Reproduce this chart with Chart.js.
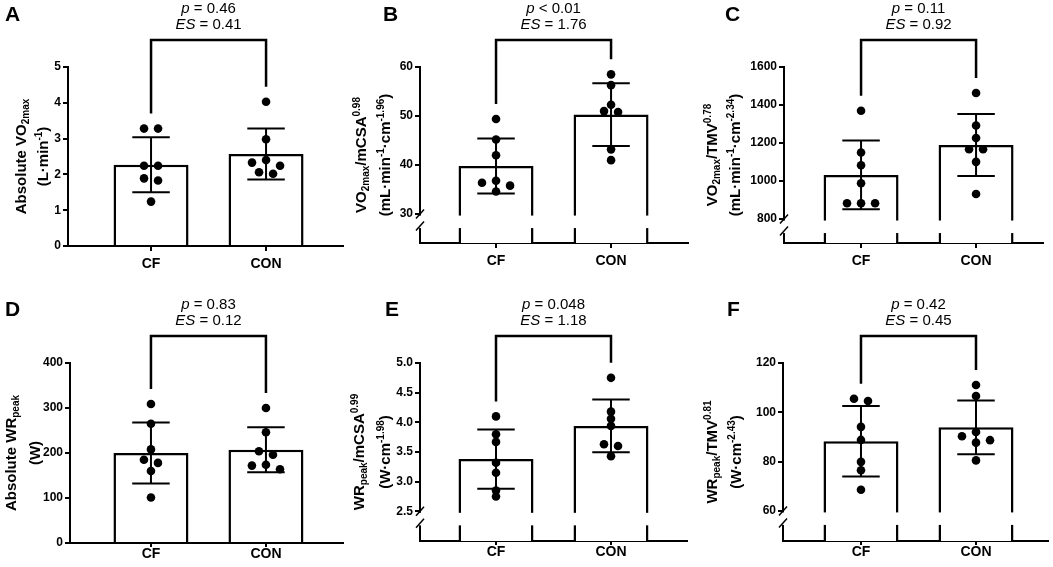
<!DOCTYPE html>
<html>
<head>
<meta charset="utf-8">
<script src="https://cdn.jsdelivr.net/npm/chart.js@4.4.1/dist/chart.umd.min.js"></script>
<style>
  body { margin: 0; background: #fff; }
  #fig { position: relative; width: 1053px; height: 567px; }
  #fig canvas { position: absolute; }
</style>
</head>
<body>
<div id="fig"></div>
<script>
const groups = ['CF', 'CON'];

// A - absolute VO2max (L/min)
const vo2AbsCF = [3.28, 3.28, 2.24, 2.24, 1.89, 1.83, 1.24];
const vo2AbsCON = [4.03, 2.98, 2.40, 2.33, 2.24, 2.06, 2.02];
const vo2AbsMean = [2.27, 2.57];
const vo2AbsSD = [0.77, 0.71];
const vo2AbsTicks = [0, 1, 2, 3, 4, 5];

// B - VO2max / mCSA^0.98
const vo2CsaCF = [49.4, 45.2, 42.0, 36.8, 36.4, 35.8, 34.6];
const vo2CsaCON = [58.5, 56.3, 52.3, 51.0, 50.8, 43.2, 41.0];
const vo2CsaMean = [39.8, 50.3];
const vo2CsaSD = [5.6, 6.4];
const vo2CsaTicks = [30, 40, 50, 60];

// C - VO2max / TMV^0.78
const vo2TmvCF = [1370, 1150, 1083, 988, 883, 883, 883];
const vo2TmvCON = [1463, 1292, 1226, 1167, 1167, 1101, 932];
const vo2TmvMean = [1032, 1190];
const vo2TmvSD = [181, 163];
const vo2TmvTicks = [800, 1000, 1200, 1400, 1600];

// D - absolute WRpeak (W)
const wrAbsCF = [309, 265, 208, 185, 178, 160, 101];
const wrAbsCON = [300, 246, 204, 196, 174, 172, 164];
const wrAbsMean = [200, 207];
const wrAbsSD = [68, 50];
const wrAbsTicks = [0, 100, 200, 300, 400];

// E - WRpeak / mCSA^0.99
const wrCsaCF = [4.10, 3.80, 3.67, 3.32, 3.15, 2.85, 2.75];
const wrCsaCON = [4.75, 4.18, 4.06, 3.94, 3.63, 3.60, 3.43];
const wrCsaMean = [3.38, 3.94];
const wrCsaSD = [0.50, 0.445];
const wrCsaTicks = [2.5, 3.0, 3.5, 4.0, 4.5, 5.0];

// F - WRpeak / TMV^0.81
const wrTmvCF = [105.5, 104.6, 94.1, 88.8, 79.9, 76.5, 68.6];
const wrTmvCON = [111.1, 106.6, 92.0, 90.3, 88.7, 87.7, 80.5];
const wrTmvMean = [88.3, 93.9];
const wrTmvSD = [14.3, 10.9];
const wrTmvTicks = [60, 80, 100, 120];

const pTexts = ['= 0.46', '< 0.01', '= 0.11', '= 0.83', '= 0.048', '= 0.42'];
const esTexts = ['0.41', '1.76', '0.92', '0.12', '1.18', '0.45'];

const FONT = '"Liberation Sans", Arial, sans-serif';

const panels = [
  { letter: 'A', box: [0, 0, 350, 283], yw: 68, top: 67, right: 7, xh: 37, tl: 5, labPad: 5,
    xMin: 0.278, xMax: 2.669, yMin: 0, yMax: 5, brk: null, dec: 0,
    cf: vo2AbsCF, con: vo2AbsCON, mean: vo2AbsMean, sd: vo2AbsSD, ticks: vo2AbsTicks,
    title: [[['Absolute VO', 0], ['2max', -1]], [['(L·min', 0], ['-1', 1], [')', 0]]],
    titleX: [21, 43], letterPos: [5, 5] },
  { letter: 'B', box: [350, 0, 350, 283], yw: 70, top: 67, right: 12, xh: 40, tl: 5, labPad: 5,
    xMin: 0.339, xMax: 2.669, yMin: 24.1, yMax: 60, brk: 30, dec: 0,
    cf: vo2CsaCF, con: vo2CsaCON, mean: vo2CsaMean, sd: vo2CsaSD, ticks: vo2CsaTicks,
    title: [[['VO', 0], ['2max', -1], ['/mCSA', 0], ['0.98', 1]],
            [['(mL·min', 0], ['-1', 1], ['·cm', 0], ['-1.96', 1], [')', 0]]],
    titleX: [11, 35], letterPos: [33, 5] },
  { letter: 'C', box: [700, 0, 353, 283], yw: 84, top: 67, right: 10, xh: 40, tl: 5, labPad: 5,
    xMin: 0.330, xMax: 2.582, yMin: 674, yMax: 1600, brk: 800, dec: 0,
    cf: vo2TmvCF, con: vo2TmvCON, mean: vo2TmvMean, sd: vo2TmvSD, ticks: vo2TmvTicks,
    title: [[['VO', 0], ['2max', -1], ['/TMV', 0], ['0.78', 1]],
            [['(mL·min', 0], ['-1', 1], ['·cm', 0], ['-2.34', 1], [')', 0]]],
    titleX: [12, 35], letterPos: [25, 5] },
  { letter: 'D', box: [0, 283, 350, 284], yw: 70, top: 80, right: 7, xh: 24, tl: 4, labPad: -1,
    xMin: 0.296, xMax: 2.670, yMin: 0, yMax: 400, brk: null, dec: 0,
    cf: wrAbsCF, con: wrAbsCON, mean: wrAbsMean, sd: wrAbsSD, ticks: wrAbsTicks,
    title: [[['Absolute WR', 0], ['peak', -1]], [['(W)', 0]]],
    titleX: [11, 35], letterPos: [5, 17] },
  { letter: 'E', box: [350, 283, 350, 284], yw: 70, top: 80, right: 13, xh: 26, tl: 4, labPad: -1,
    xMin: 0.339, xMax: 2.661, yMin: 2.0, yMax: 5.0, brk: 2.5, dec: 1,
    cf: wrCsaCF, con: wrCsaCON, mean: wrCsaMean, sd: wrCsaSD, ticks: wrCsaTicks,
    title: [[['WR', 0], ['peak', -1], ['/mCSA', 0], ['0.99', 1]],
            [['(W·cm', 0], ['-1.98', 1], [')', 0]]],
    titleX: [9, 35], letterPos: [35, 17] },
  { letter: 'F', box: [700, 283, 353, 284], yw: 83, top: 80, right: 5, xh: 26, tl: 4, labPad: -1,
    xMin: 0.322, xMax: 2.626, yMin: 47.8, yMax: 120, brk: 60, dec: 0,
    cf: wrTmvCF, con: wrTmvCON, mean: wrTmvMean, sd: wrTmvSD, ticks: wrTmvTicks,
    title: [[['WR', 0], ['peak', -1], ['/TMV', 0], ['0.81', 1]],
            [['(W·cm', 0], ['-2.43', 1], [')', 0]]],
    titleX: [12, 36], letterPos: [27, 17] }
];

// spread points that sit at nearly the same height into rows (max 3 per row)
function swarm(vals, thr, step) {
  const order = vals.map((v, i) => i).sort((a, b) => vals[b] - vals[a]);
  const off = vals.map(() => 0);
  const slots = { 1: [0], 2: [-0.5, 0.5], 3: [0, -1, 1] };
  let row = [];
  const flush = () => {
    row.forEach((i, k) => { off[i] = slots[row.length][k] * step; });
    row = [];
  };
  order.forEach(i => {
    if (row.length && (vals[row[row.length - 1]] - vals[i] >= thr || row.length === 3)) flush();
    row.push(i);
  });
  flush();
  return off;
}

function drawRich(ctx, segs, cx, cy) {
  ctx.save();
  ctx.translate(cx, cy);
  ctx.rotate(-Math.PI / 2);
  const fontFor = s => s[1] === 0 ? 'bold 15px ' + FONT : 'bold 10px ' + FONT;
  let w = 0;
  segs.forEach(s => { ctx.font = fontFor(s); w += ctx.measureText(s[0]).width; });
  let x = -w / 2;
  ctx.fillStyle = '#000';
  ctx.textBaseline = 'alphabetic';
  segs.forEach(s => {
    ctx.font = fontFor(s);
    const dy = s[1] === 1 ? -6 : (s[1] === -1 ? 3 : 0);
    ctx.fillText(s[0], x, 5 + dy);
    x += ctx.measureText(s[0]).width;
  });
  ctx.restore();
}

function drawStat(ctx, label, rest, cx, cy) {
  ctx.font = 'italic 15px ' + FONT;
  const w1 = ctx.measureText(label).width;
  ctx.font = '15px ' + FONT;
  const w2 = ctx.measureText(' ' + rest).width;
  const x0 = cx - (w1 + w2) / 2;
  ctx.textBaseline = 'middle';
  ctx.textAlign = 'left';
  ctx.font = 'italic 15px ' + FONT;
  ctx.fillText(label, x0, cy);
  ctx.font = '15px ' + FONT;
  ctx.fillText(' ' + rest, x0 + w1, cy);
}

function extras(pn, k) {
  return {
    id: 'extras',
    afterDatasetDraw(chart, args) {
      if (args.meta.type !== 'bar') return;
      const { ctx, chartArea: a, scales: { y } } = chart;
      ctx.save();
      ctx.strokeStyle = '#000';
      ctx.lineWidth = 2;
      args.meta.data.forEach((bar, i) => {
        const top = y.getPixelForValue(pn.mean[i] + pn.sd[i]);
        const bot = y.getPixelForValue(pn.mean[i] - pn.sd[i]);
        const hw = bar.width / 4;
        ctx.beginPath();
        ctx.moveTo(bar.x, top); ctx.lineTo(bar.x, bot);
        ctx.moveTo(bar.x - hw, top); ctx.lineTo(bar.x + hw, top);
        ctx.moveTo(bar.x - hw, bot); ctx.lineTo(bar.x + hw, bot);
        ctx.stroke();
      });
      if (pn.brk !== null) {
        const yb = y.getPixelForValue(pn.brk);
        ctx.fillStyle = '#fff';
        ctx.fillRect(a.left - 2, yb + 1.5, a.right - a.left + 4, 12.5);
        ctx.lineWidth = 1.5;
        [yb, yb + 12].forEach(v => {
          ctx.beginPath();
          ctx.moveTo(a.left - 4, v + 4.5);
          ctx.lineTo(a.left + 4, v - 4.5);
          ctx.stroke();
        });
      }
      ctx.restore();
    },
    afterDraw(chart) {
      const { ctx, chartArea: a, scales: { x, y } } = chart;
      ctx.save();
      // significance bracket
      const x1 = x.getPixelForValue(1), x2 = x.getPixelForValue(2);
      const topY = a.top - 27;
      const legs = [pn.cf, pn.con].map((vals, g) =>
        y.getPixelForValue(Math.max(...vals, pn.mean[g] + pn.sd[g])) - 15);
      ctx.strokeStyle = '#000';
      ctx.lineWidth = 2.5;
      ctx.lineJoin = 'miter';
      ctx.beginPath();
      ctx.moveTo(x1, legs[0]);
      ctx.lineTo(x1, topY);
      ctx.lineTo(x2, topY);
      ctx.lineTo(x2, legs[1]);
      ctx.stroke();
      ctx.fillStyle = '#000';
      const cx = (x1 + x2) / 2;
      drawStat(ctx, 'p', pTexts[k], cx, topY - 31);
      drawStat(ctx, 'ES', '= ' + esTexts[k], cx, topY - 15);
      // panel letter
      ctx.font = 'bold 21px ' + FONT;
      ctx.textBaseline = 'top';
      ctx.fillText(pn.letter, pn.letterPos[0], pn.letterPos[1]);
      // y axis title
      const cy = (a.top + a.bottom) / 2;
      pn.title.forEach((segs, i) => drawRich(ctx, segs, pn.titleX[i], cy));
      ctx.restore();
    }
  };
}

const fig = document.getElementById('fig');
const step = 0.122;

panels.forEach((pn, k) => {
  const canvas = document.createElement('canvas');
  canvas.width = pn.box[2];
  canvas.height = pn.box[3];
  canvas.style.left = pn.box[0] + 'px';
  canvas.style.top = pn.box[1] + 'px';
  fig.appendChild(canvas);

  const thr = 0.03 * (pn.yMax - pn.yMin);
  const offCF = swarm(pn.cf, thr, step);
  const offCON = swarm(pn.con, thr, step);
  const points = pn.cf.map((v, i) => ({ x: 1 + offCF[i], y: v }))
    .concat(pn.con.map((v, i) => ({ x: 2 + offCON[i], y: v })));

  new Chart(canvas, {
    type: 'bar',
    data: {
      datasets: [
        {
          type: 'bar',
          data: pn.mean.map((m, i) => ({ x: i + 1, y: m })),
          backgroundColor: '#fff',
          borderColor: '#000',
          borderWidth: 2.5,
          barPercentage: 0.652,
          categoryPercentage: 1,
          order: 2
        },
        {
          type: 'scatter',
          data: points,
          pointRadius: 4.3,
          pointBackgroundColor: '#000',
          pointBorderWidth: 0,
          order: 1
        }
      ]
    },
    options: {
      responsive: false,
      animation: false,
      layout: { padding: { left: 0, top: pn.top, right: pn.right, bottom: 0 } },
      plugins: { legend: { display: false }, tooltip: { enabled: false } },
      scales: {
        x: {
          type: 'linear',
          min: pn.xMin,
          max: pn.xMax,
          offset: false,
          afterBuildTicks: s => { s.ticks = groups.map((g, i) => ({ value: i + 1 })); },
          afterFit: s => { s.height = pn.xh; },
          ticks: {
            callback: v => groups[v - 1],
            font: { family: FONT, size: 14, weight: 'bold' },
            color: '#000',
            padding: pn.labPad,
            maxRotation: 0,
            autoSkip: false
          },
          grid: { offset: false, drawOnChartArea: false, color: '#000', lineWidth: 2, tickLength: pn.tl },
          border: { color: '#000', width: 2 }
        },
        y: {
          min: pn.yMin,
          max: pn.yMax,
          afterBuildTicks: s => { s.ticks = pn.ticks.map(v => ({ value: v })); },
          afterFit: s => { s.width = pn.yw; },
          ticks: {
            callback: v => v.toFixed(pn.dec),
            font: { family: FONT, size: 12, weight: 'bold' },
            color: '#000',
            padding: 2
          },
          grid: { drawOnChartArea: false, color: '#000', lineWidth: 2, tickLength: 5 },
          border: { color: '#000', width: 2 }
        }
      }
    },
    plugins: [extras(pn, k)]
  });
});
</script>
</body>
</html>
